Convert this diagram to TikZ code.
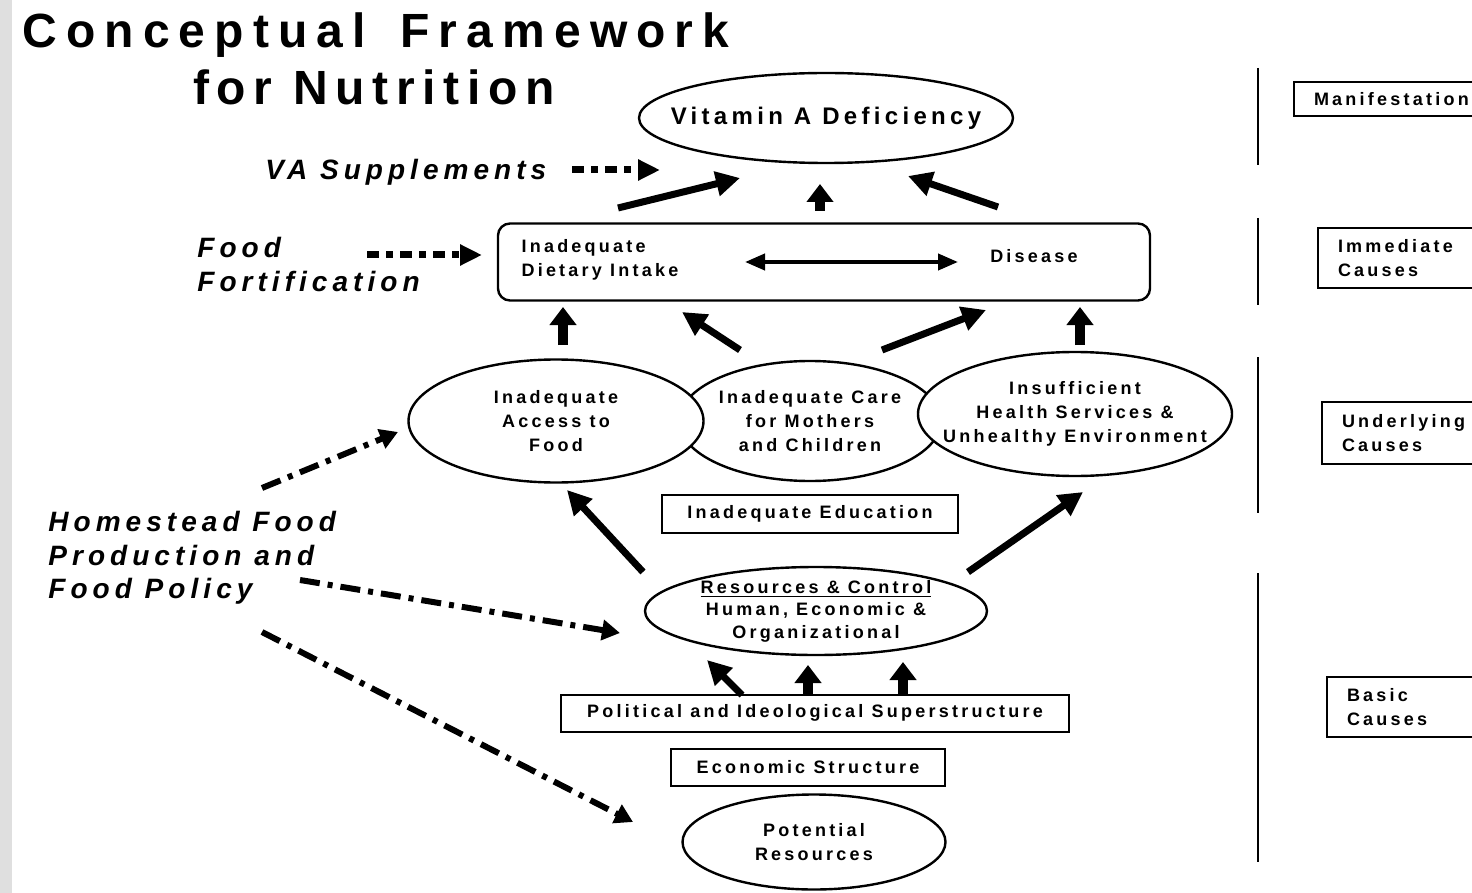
\documentclass[tikz,border=0pt]{standalone}
\usepackage{fontspec}
\setmainfont{Liberation Sans}
\newfontfamily\lblfont[LetterSpace=18]{Liberation Sans}
\newfontfamily\ttlfont[LetterSpace=16]{Liberation Sans}
\newfontfamily\ttlwide[LetterSpace=19]{Liberation Sans}
\newfontfamily\itlfont[LetterSpace=18]{Liberation Sans}
\usetikzlibrary{shapes.geometric,arrows.meta}
\tikzset{
  lab/.style={font=\lblfont\bfseries\fontsize{9}{12}\selectfont, align=center, inner sep=1pt},
  ell/.style={ellipse, draw, line width=1.2pt, fill=white, inner sep=0pt},
  plainbox/.style={rectangle, draw, line width=1pt, fill=white, lab},
  rbox/.style={rectangle, draw, line width=1pt, fill=white, lab, anchor=west, align=left,
    inner xsep=10pt, text width=80pt},
  ttl/.style={font=\ttlfont\bfseries\fontsize{24}{28}\selectfont, inner sep=0pt},
  itl/.style={font=\itlfont\bfseries\itshape\fontsize{14}{17}\selectfont, inner sep=0pt, anchor=base west},
  big/.style={line width=3.5pt, -{Triangle[length=12pt,width=12pt]}},
  vert/.style={line width=5pt, -{Triangle[length=9pt,width=13pt]}},
  dbl/.style={line width=2pt, {Triangle[length=10pt,width=8pt]}-{Triangle[length=10pt,width=8pt]}},
  dsh/.style={line width=3.5pt, dash pattern=on 6pt off 3.5pt on 3.5pt off 3.5pt, -{Triangle[length=11pt,width=10pt]}},
  dashdot/.style={line width=3pt, dash pattern=on 10pt off 4pt on 2.5pt off 4pt, -{Triangle[length=9pt,width=10pt]}},
  divider/.style={line width=1pt}
}
\begin{document}
\begin{tikzpicture}[x=0.5pt,y=-0.5pt]
\useasboundingbox (0,0) rectangle (1472,893);
\clip (0,0) rectangle (1472,893);
\fill[white] (0,0) rectangle (1472,893);
\fill[gray!25] (0,0) rectangle (12,893);

% title
\node[ttl, font=\ttlwide\bfseries\fontsize{24}{28}\selectfont, anchor=base] (t1) at (376,48) {Conceptual\hspace{6pt} Framework};
\node[ttl, anchor=base] (t2) at (374,105) {for Nutrition};

% main nodes
\node[ell, minimum width=187pt, minimum height=45pt,
      label={[lab, font=\lblfont\bfseries\fontsize{12}{14}\selectfont]center:Vitamin A Deficiency}] (vad) at (826,118) {};

\node[draw, rounded corners=6pt, line width=1.2pt, minimum width=326pt, minimum height=38.5pt] (diet) at (824,262) {};
\node[lab, align=left] (dit) at (600,260) {Inadequate\\Dietary Intake};
\node[lab] (dis) at (1034,256) {Disease};

\node[ell, minimum width=131pt, minimum height=60pt,
      label={[lab]center:{Inadequate Care\\for Mothers\\and Children}}] (care) at (810,421) {};
\node[ell, minimum width=147.5pt, minimum height=61.5pt,
      label={[lab]center:{Inadequate\\Access to\\Food}}] (access) at (556,421) {};
\node[ell, minimum width=157pt, minimum height=62pt,
      label={[lab]center:{Insufficient\\Health Services \&\\Unhealthy Environment}}] (health) at (1075,414) {};

\node[plainbox, minimum width=148pt, minimum height=19pt] (edu) at (810,514) {Inadequate Education};

\node[ell, minimum width=171pt, minimum height=44pt,
      label={[lab, font=\lblfont\bfseries\fontsize{9}{11.3}\selectfont]center:{\underline{Resources \& Control}\\Human, Economic \&\\Organizational}}] (res) at (816,611) {};

\node[plainbox, minimum width=254pt, minimum height=18.5pt] (pol) at (815,713) {Political and Ideological Superstructure};
\node[plainbox, minimum width=137pt, minimum height=18.5pt] (eco) at (808,767) {Economic Structure};
\node[ell, minimum width=131.5pt, minimum height=47.5pt,
      label={[lab]center:{Potential\\Resources}}] (pot) at (814,842) {};

% intervention labels
\node[itl] (vas) at (265,180) {VA Supplements};
\node[itl] (ff1) at (197,257) {Food};
\node[itl] (ff2) at (197,292) {Fortification};
\node[itl] (hf1) at (48,531) {Homestead Food};
\node[itl] (hf2) at (48,565) {Production and};
\node[itl] (hf3) at (48,598) {Food Policy};

% arrow end points
\coordinate (v1s) at (618,208); \coordinate (v1e) at (740,178);
\coordinate (v2s) at (820,211); \coordinate (v2e) at (820,184);
\coordinate (v3s) at (998,207); \coordinate (v3e) at (908,176);
\coordinate (dl) at (745,262); \coordinate (dr) at (958,262);
\coordinate (d1s) at (563,345); \coordinate (d1e) at (563,307);
\coordinate (d2s) at (740,350); \coordinate (d2e) at (682,312);
\coordinate (d3s) at (882,350); \coordinate (d3e) at (986,310);
\coordinate (d4s) at (1080,345); \coordinate (d4e) at (1080,307);
\coordinate (r1s) at (643,572); \coordinate (r1e) at (567,490);
\coordinate (r2s) at (968,572); \coordinate (r2e) at (1083,492);
\coordinate (p1s) at (742,695); \coordinate (p1e) at (707,660);
\coordinate (p2s) at (808,695); \coordinate (p2e) at (808,665);
\coordinate (p3s) at (903,695); \coordinate (p3e) at (903,662);
\coordinate (vaa) at (572,170); \coordinate (vab) at (660,170);
\coordinate (ffa) at (367,255); \coordinate (ffb) at (482,255);
\coordinate (h1a) at (262,488); \coordinate (h1b) at (398,432);
\coordinate (h2a) at (300,580); \coordinate (h2b) at (620,633);
\coordinate (h3a) at (262,632); \coordinate (h3b) at (633,822);

\draw[big] (v1s) -- (v1e);
\draw[vert] (v2s) -- (v2e);
\draw[big] (v3s) -- (v3e);
\draw[dbl] (dl) -- (dr);
\draw[vert] (d1s) -- (d1e);
\draw[big] (d2s) -- (d2e);
\draw[big] (d3s) -- (d3e);
\draw[vert] (d4s) -- (d4e);
\draw[big] (r1s) -- (r1e);
\draw[big] (r2s) -- (r2e);
\draw[big] (p1s) -- (p1e);
\draw[vert] (p2s) -- (p2e);
\draw[vert] (p3s) -- (p3e);
\draw[dsh] (vaa) -- (vab);
\draw[dsh] (ffa) -- (ffb);
\draw[dashdot] (h1a) -- (h1b);
\draw[dashdot] (h2a) -- (h2b);
\draw[dashdot] (h3a) -- (h3b);

% right-hand level labels
\coordinate (l1a) at (1258,68);  \coordinate (l1b) at (1258,165);
\coordinate (l2a) at (1258,218); \coordinate (l2b) at (1258,305);
\coordinate (l3a) at (1258,357); \coordinate (l3b) at (1258,513);
\coordinate (l4a) at (1258,573); \coordinate (l4b) at (1258,862);
\draw[divider] (l1a) -- (l1b);
\draw[divider] (l2a) -- (l2b);
\draw[divider] (l3a) -- (l3b);
\draw[divider] (l4a) -- (l4b);

\node[rbox, minimum height=17pt] (man) at (1293,99) {Manifestation};
\node[rbox, minimum height=30pt] (imm) at (1317,258) {Immediate\\Causes};
\node[rbox, minimum height=31pt] (und) at (1321,433) {Underlying\\Causes};
\node[rbox, minimum height=30pt] (bas) at (1326,707) {Basic\\Causes};
\end{tikzpicture}
\end{document}
